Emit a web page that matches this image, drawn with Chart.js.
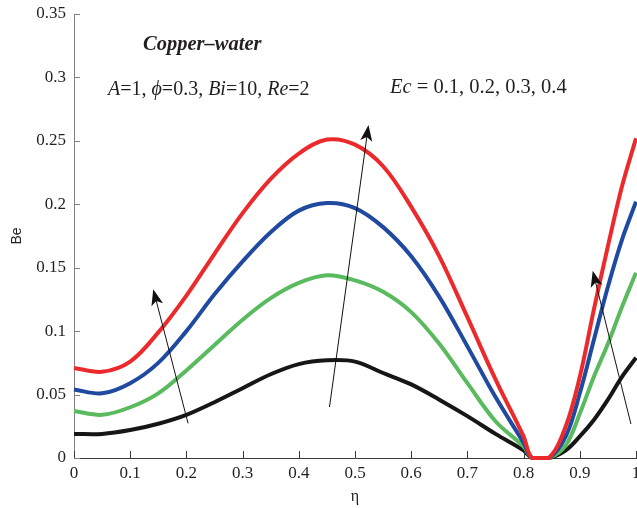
<!DOCTYPE html>
<html lang="en">
  <head>
    <meta charset="UTF-8" />
    <title>Be vs eta, Copper-water</title>
    <script src="https://cdn.jsdelivr.net/npm/chart.js"></script>
    <style>
      body { margin: 0; background: #fff; }
      canvas { display: block; }
    </style>
  </head>
  <body>
    <canvas id="be-chart" width="637" height="508"></canvas>
    <script>
      // eta positions and Bejan number for Ec = 0.1 .. 0.4
      const eta = [0, 0.05, 0.1, 0.15, 0.2, 0.25, 0.3, 0.35, 0.4, 0.45, 0.5, 0.55, 0.6,
        0.65, 0.7, 0.75, 0.8, 0.815, 0.845, 0.875, 0.9, 0.925, 0.95, 0.975, 1];
      const beEc04 = [0.071, 0.068, 0.076, 0.099, 0.128, 0.161, 0.193, 0.220, 0.240, 0.251, 0.247, 0.230, 0.198,
        0.159, 0.111, 0.062, 0.017, 0, 0, 0.025, 0.064, 0.117, 0.167, 0.214, 0.252];
      const beEc03 = [0.054, 0.051, 0.059, 0.075, 0.100, 0.129, 0.155, 0.178, 0.195, 0.201, 0.197, 0.182, 0.159,
        0.127, 0.088, 0.048, 0.012, 0, 0, 0.017, 0.051, 0.093, 0.135, 0.172, 0.202];
      const beEc02 = [0.037, 0.034, 0.040, 0.051, 0.069, 0.089, 0.109, 0.126, 0.138, 0.144, 0.140, 0.131, 0.115,
        0.090, 0.059, 0.029, 0.009, 0, 0, 0.010, 0.035, 0.064, 0.090, 0.119, 0.146];
      const beEc01 = [0.019, 0.019, 0.022, 0.027, 0.034, 0.044, 0.055, 0.066, 0.074, 0.077, 0.076, 0.067, 0.058,
        0.046, 0.033, 0.019, 0.006, 0, 0, 0.006, 0.017, 0.030, 0.046, 0.064, 0.079];

      const xTicks = [0, 0.1, 0.2, 0.3, 0.4, 0.5, 0.6, 0.7, 0.8, 0.9, 1];
      const yTicks = [0, 0.05, 0.1, 0.15, 0.2, 0.25, 0.3, 0.35];

      // arrows [tailX, tailY, headX, headY] in data units
      const arrows = [
        [0.203, 0.0273, 0.141, 0.133],
        [0.4546, 0.0402, 0.524, 0.2625],
        [0.991, 0.0268, 0.923, 0.1476],
      ];

      const serif = '"Liberation Serif", "DejaVu Serif", "Times New Roman", serif';

      function toPoints(ys) {
        return eta.map((x, i) => ({ x: x, y: ys[i] }));
      }

      function curve(label, ys, color) {
        return {
          label: label,
          data: toPoints(ys),
          borderColor: color,
          backgroundColor: color,
          borderWidth: 4,
          pointRadius: 0,
          tension: 0.35,
          clip: false,
        };
      }

      function drawRuns(ctx, runs, x, y, size, weight) {
        ctx.textBaseline = "alphabetic";
        ctx.textAlign = "left";
        for (const [text, italic] of runs) {
          ctx.font = (italic ? "italic " : "") + (weight || "") + " " + size + "px " + serif;
          ctx.fillText(text, x, y);
          x += ctx.measureText(text).width;
        }
      }

      function drawArrow(ctx, x0, y0, x1, y1) {
        const ang = Math.atan2(y1 - y0, x1 - x0);
        const len = 16, half = 6, notch = 4;
        ctx.beginPath();
        ctx.moveTo(x0, y0);
        ctx.lineTo(x1 - Math.cos(ang) * (len - notch), y1 - Math.sin(ang) * (len - notch));
        ctx.stroke();
        const bx = x1 - Math.cos(ang) * len, by = y1 - Math.sin(ang) * len;
        const nx = -Math.sin(ang), ny = Math.cos(ang);
        ctx.beginPath();
        ctx.moveTo(x1, y1);
        ctx.lineTo(bx + nx * half, by + ny * half);
        ctx.lineTo(x1 - Math.cos(ang) * (len - notch), y1 - Math.sin(ang) * (len - notch));
        ctx.lineTo(bx - nx * half, by - ny * half);
        ctx.closePath();
        ctx.fill();
      }

      const decorations = {
        id: "decorations",
        afterDraw(chart) {
          const ctx = chart.ctx;
          const xs = chart.scales.x, ys = chart.scales.y;
          const area = chart.chartArea;
          ctx.save();

          // inward tick marks
          ctx.lineWidth = 1;
          ctx.strokeStyle = "#3a3a3a";
          for (const v of xTicks) {
            const px = Math.round(xs.getPixelForValue(v)) + 0.5;
            ctx.beginPath();
            ctx.moveTo(px, area.bottom);
            ctx.lineTo(px, area.bottom - 7);
            ctx.stroke();
          }
          ctx.strokeStyle = "#808080";
          for (const v of yTicks) {
            const py = Math.round(ys.getPixelForValue(v)) + 0.5;
            ctx.beginPath();
            ctx.moveTo(area.left, py);
            ctx.lineTo(area.left + 6, py);
            ctx.stroke();
          }

          // Ec arrows
          ctx.strokeStyle = "#111";
          ctx.fillStyle = "#111";
          ctx.lineWidth = 1;
          for (const [a, b, c, d] of arrows) {
            drawArrow(ctx, xs.getPixelForValue(a), ys.getPixelForValue(b),
              xs.getPixelForValue(c), ys.getPixelForValue(d));
          }

          // labels
          ctx.fillStyle = "#231f20";
          drawRuns(ctx, [["Copper\u2013water", true]],
            xs.getPixelForValue(0.1228), ys.getPixelForValue(0.322), 20.5, "bold");
          drawRuns(ctx, [["A", true], ["=1, ", false], ["\u03D5", true], ["=0.3, ", false],
            ["Bi", true], ["=10, ", false], ["Re", true], ["=2", false]],
            xs.getPixelForValue(0.0605), ys.getPixelForValue(0.2861), 20);
          drawRuns(ctx, [["Ec", true], [" = 0.1, 0.2, 0.3, 0.4", false]],
            xs.getPixelForValue(0.5623), ys.getPixelForValue(0.2875), 20.5);

          ctx.restore();
        },
      };

      const fmt = (v) => String(parseFloat(Number(v).toFixed(2)));

      new Chart(document.getElementById("be-chart"), {
        type: "line",
        data: {
          datasets: [
            curve("Ec = 0.4", beEc04, "#ec2a2c"),
            curve("Ec = 0.3", beEc03, "#2049a0"),
            curve("Ec = 0.2", beEc02, "#59ba5e"),
            curve("Ec = 0.1", beEc01, "#161616"),
          ],
        },
        options: {
          responsive: false,
          animation: false,
          layout: { padding: { top: 14, right: 1, left: 0, bottom: 0 }, autoPadding: false },
          plugins: { legend: { display: false }, tooltip: { enabled: false } },
          scales: {
            x: {
              type: "linear",
              min: 0,
              max: 1,
              afterBuildTicks: (s) => { s.ticks = xTicks.map((v) => ({ value: v })); },
              afterFit: (s) => {
                s.height = 50;
                s.paddingLeft = 0;
                s.paddingRight = 0;
              },
              grid: { display: false, drawTicks: false },
              border: { display: true, color: "#3a3a3a", width: 1 },
              ticks: {
                autoSkip: false,
                maxRotation: 0,
                padding: 5,
                color: "#231f20",
                font: { family: serif, size: 17 },
                callback: fmt,
              },
              title: {
                display: true,
                text: "\u03B7",
                color: "#231f20",
                font: { family: serif, size: 16 },
                padding: { top: 0, bottom: 2 },
              },
            },
            y: {
              min: 0,
              max: 0.35,
              afterBuildTicks: (s) => { s.ticks = yTicks.map((v) => ({ value: v })); },
              afterFit: (s) => {
                s.width = 74;
                s.paddingTop = 0;
                s.paddingBottom = 0;
              },
              grid: { display: false, drawTicks: false },
              border: { display: true, color: "#808080", width: 1 },
              ticks: {
                autoSkip: false,
                padding: 8,
                color: "#231f20",
                font: { family: serif, size: 17 },
                callback: fmt,
              },
              title: {
                display: true,
                text: "Be",
                color: "#231f20",
                font: { family: '"Liberation Sans", Arial, sans-serif', size: 14 },
                padding: { top: 9, bottom: 0 },
              },
            },
          },
        },
        plugins: [decorations],
      });
    </script>
  </body>
</html>
